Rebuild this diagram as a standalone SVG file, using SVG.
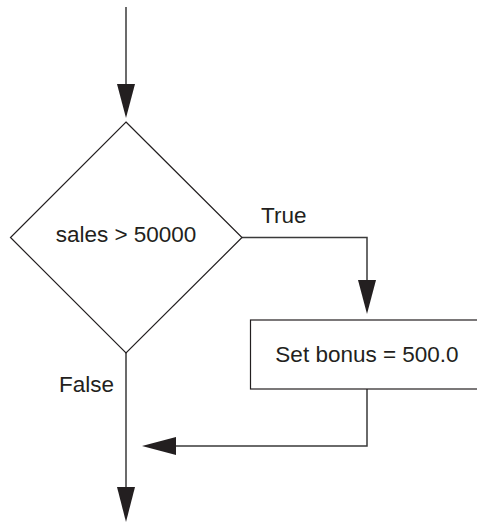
<svg xmlns="http://www.w3.org/2000/svg" width="477" height="524" viewBox="0 0 477 524">
<style>
.ln{fill:none;stroke:#3a3a3a;stroke-width:1.5}
.sh{fill:#fff;stroke:#231f20;stroke-width:1.2}
.ah{fill:#231f20;stroke:none}
text{font-family:"Liberation Sans",Arial,sans-serif;font-size:22.5px;fill:#231f20}
</style>
<rect width="477" height="524" fill="#fff"/>
<g id="connectors">
<line class="ln" x1="126" y1="7" x2="126" y2="86"/>
<polygon class="ah" points="117,84 135,84 126,118"/>
<polyline class="ln" points="242,237.5 367,237.5 367,282"/>
<polygon class="ah" points="358,280 376,280 367,314"/>
<polyline class="ln" points="367,389 367,446 174,446"/>
<polygon class="ah" points="176,437 176,455 142,446"/>
<line class="ln" x1="126" y1="353" x2="126" y2="489"/>
<polygon class="ah" points="117,487 135,487 126,522"/>
<text x="261" y="223">True</text>
<text x="59" y="392">False</text>
</g>
<g id="decision">
<polygon class="sh" points="126,122 242,237.5 126,353 10.5,237.5"/>
<text x="126" y="242" text-anchor="middle">sales &gt; 50000</text>
</g>
<g id="process">
<rect class="sh" x="250.5" y="320" width="260" height="69"/>
<text x="367" y="362" text-anchor="middle">Set bonus = 500.0</text>
</g>
</svg>
